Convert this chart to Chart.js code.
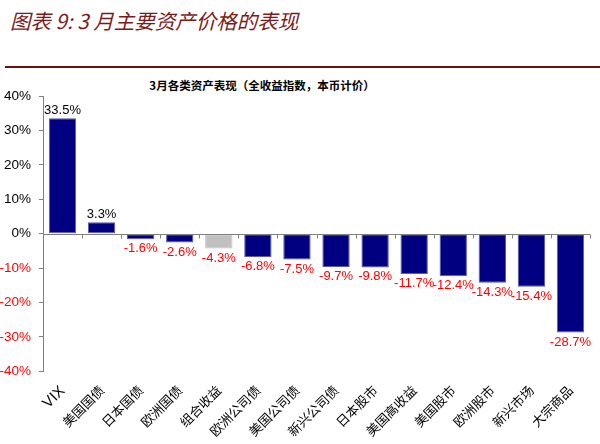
<!DOCTYPE html>
<html>
<head>
<meta charset="utf-8">
<script src="https://cdn.jsdelivr.net/npm/chart.js@4"></script>
<style>
  body { margin: 0; width: 600px; height: 444px; background: #fff; overflow: hidden; font-family: 'Liberation Sans', Arial, sans-serif; }
  #titulo { position: absolute; left: 10px; top: 5px; font: italic 20.5px 'Noto Sans CJK SC', sans-serif; color: #7a1b1b; }
  #regla { position: absolute; left: 5px; top: 66px; width: 595px; height: 2px; background: #6b1010; }
  #subtitulo { position: absolute; left: 0; width: 524px; top: 77px; text-align: center; font: bold 11.5px 'Noto Sans CJK SC', sans-serif; color: #000; }
  #caja { position: absolute; left: 0; top: 72px; width: 600px; height: 372px; }
</style>
</head>
<body>
<div id="titulo">图表 9: 3 月主要资产价格的表现</div>
<div id="regla"></div>
<div id="subtitulo">3月各类资产表现（全收益指数，本币计价）</div>
<div id="caja"><canvas id="grafico"></canvas></div>
<script>
const categorias = ['VIX', '美国国债', '日本国债', '欧洲国债', '组合收益', '欧洲公司债', '美国公司债', '新兴公司债', '日本股市', '美国高收益', '美国股市', '欧洲股市', '新兴市场', '大宗商品'];
const rendimientos = [33.5, 3.3, -1.6, -2.6, -4.3, -6.8, -7.5, -9.7, -9.8, -11.7, -12.4, -14.3, -15.4, -28.7];
const ticksY = [40, 30, 20, 10, 0, -10, -20, -30, -40];

const etiquetas = {
  id: 'etiquetas',
  afterDatasetsDraw(chart) {
    const ctx = chart.ctx;
    const meta = chart.getDatasetMeta(0);
    ctx.save();
    ctx.font = '13px "Liberation Sans", Arial, sans-serif';
    ctx.textAlign = 'center';
    meta.data.forEach((bar, i) => {
      const v = rendimientos[i];
      if (v >= 0) {
        ctx.fillStyle = '#000';
        ctx.textBaseline = 'bottom';
        ctx.fillText(v.toFixed(1) + '%', bar.x, bar.y - 1);
      } else {
        ctx.fillStyle = '#ff0000';
        ctx.textBaseline = 'top';
        ctx.fillText(v.toFixed(1) + '%', bar.x, bar.y + 3);
      }
    });
    ctx.restore();
  },
  afterDraw(chart) {
    // linea del cero con marcas entre categorias
    const ctx = chart.ctx;
    const x = chart.scales.x;
    const y0 = Math.round(chart.scales.y.getPixelForValue(0)) + 0.5;
    const paso = x.getPixelForValue(1) - x.getPixelForValue(0);
    ctx.save();
    ctx.strokeStyle = '#808080';
    ctx.lineWidth = 1;
    ctx.beginPath();
    ctx.moveTo(chart.chartArea.left, y0);
    ctx.lineTo(chart.chartArea.right, y0);
    categorias.forEach((c, i) => {
      const xt = Math.round(x.getPixelForValue(i) + paso / 2) + 0.5;
      ctx.moveTo(xt, y0);
      ctx.lineTo(xt, y0 + 4);
    });
    ctx.stroke();
    ctx.restore();
  }
};

new Chart(document.getElementById('grafico'), {
  type: 'bar',
  data: {
    labels: categorias,
    datasets: [{
      data: rendimientos,
      backgroundColor: categorias.map(c => c === '组合收益' ? '#c0c0c0' : '#000080'),
      borderColor: categorias.map(c => c === '组合收益' ? '#c0c0c0' : '#5a5aa8'),
      borderWidth: 1,
      borderSkipped: false,
      barPercentage: 0.7,
      categoryPercentage: 1
    }]
  },
  options: {
    responsive: true,
    maintainAspectRatio: false,
    animation: false,
    layout: { padding: { left: 0, right: 10, top: 24, bottom: 0 } },
    plugins: {
      legend: { display: false },
      tooltip: { enabled: false }
    },
    scales: {
      y: {
        min: -40,
        max: 40,
        afterBuildTicks: s => { s.ticks = ticksY.map(v => ({ value: v })); },
        afterFit: s => { s.width = 43; },
        border: { color: '#808080' },
        grid: { drawOnChartArea: false, drawTicks: true, tickLength: 4, color: '#808080' },
        ticks: {
          padding: 8,
          color: ctx => ctx.tick.value < 0 ? '#ff0000' : '#000',
          font: { family: '"Liberation Sans", Arial, sans-serif', size: 13.5 },
          callback: v => v + '%'
        }
      },
      x: {
        border: { display: false },
        grid: { display: false },
        ticks: {
          autoSkip: false,
          minRotation: 45,
          maxRotation: 45,
          padding: 3,
          color: '#000',
          font: ctx => ctx.index === 0
            ? { family: '"Liberation Sans", Arial, sans-serif', size: 15 }
            : { family: '"Noto Sans CJK SC", sans-serif', size: 13 }
        }
      }
    }
  },
  plugins: [etiquetas]
});
</script>
</body>
</html>
